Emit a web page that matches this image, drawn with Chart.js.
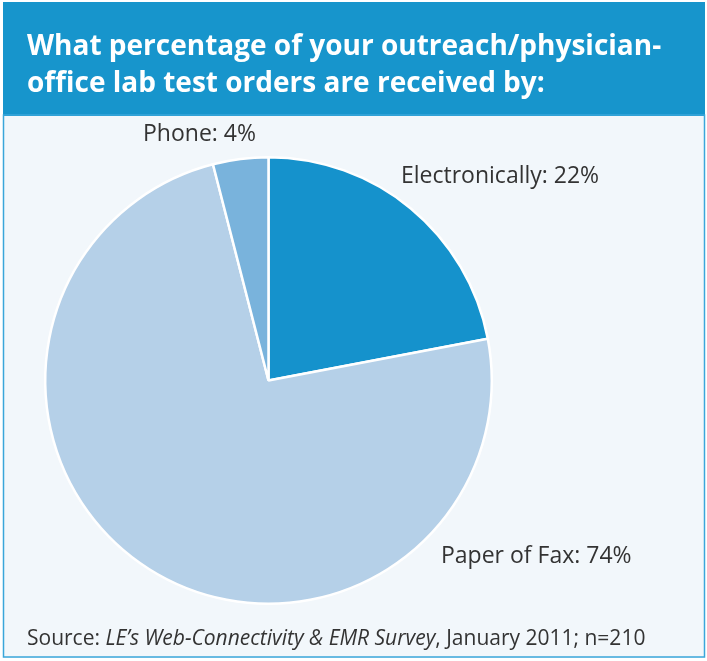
<!DOCTYPE html>
<html>
<head>
<meta charset="utf-8">
<script src="https://cdn.jsdelivr.net/npm/chart.js@4"></script>
<style>
  html, body { margin: 0; padding: 0; background: #ffffff; }
  #wrap { position: relative; width: 707px; height: 661px; }
</style>
</head>
<body>
<div id="wrap"><canvas id="myChart" width="707" height="661"></canvas></div>
<script>
const categories = ['Electronically', 'Paper of Fax', 'Phone'];
const shares = [22, 74, 4];
const sliceColors = ['#1592cc', '#b5d0e8', '#79b3dc'];
const titleLines = ['What percentage of your outreach/physician-', 'office lab test orders are received by:'];
// where each slice label sits (text left x, baseline y)
const labelSpots = [[401, 183], [441, 563], [143, 141]];

const frame = {
  id: 'frame',
  beforeDraw(chart) {
    const ctx = chart.ctx;
    ctx.save();
    ctx.fillStyle = '#ffffff';
    ctx.fillRect(0, 0, 707, 661);
    ctx.fillStyle = '#f2f7fb';
    ctx.fillRect(3, 115, 702, 543);
    ctx.fillStyle = '#1795cc';
    ctx.fillRect(3, 2, 702, 114);
    ctx.strokeStyle = '#3aa6da';
    ctx.lineWidth = 1.5;
    ctx.strokeRect(3.5, 115, 701, 542);
    ctx.fillStyle = '#ffffff';
    ctx.font = 'bold 28px "Open Sans"';
    ctx.textBaseline = 'alphabetic';
    ctx.fillText(titleLines[0], 27, 55, 643);
    ctx.fillText(titleLines[1], 27, 92);
    ctx.restore();
  },
  afterDraw(chart) {
    const ctx = chart.ctx;
    ctx.save();
    ctx.fillStyle = '#333333';
    ctx.font = '23px "Open Sans"';
    categories.forEach((c, i) => {
      ctx.fillText(c + ': ' + shares[i] + '%', labelSpots[i][0], labelSpots[i][1]);
    });
    let x = 27;
    const parts = [['Source: ', ''], ['LE\u2019s Web-Connectivity & EMR Survey', 'italic '], [', January 2011; n=210', '']];
    parts.forEach(p => {
      ctx.font = p[1] + '21px "Open Sans"';
      ctx.fillText(p[0], x, 645);
      x += ctx.measureText(p[0]).width;
    });
    ctx.restore();
  }
};

new Chart(document.getElementById('myChart').getContext('2d'), {
  type: 'pie',
  data: {
    labels: categories,
    datasets: [{
      data: shares,
      backgroundColor: sliceColors,
      borderColor: '#ffffff',
      borderWidth: 2.5
    }]
  },
  options: {
    responsive: false,
    animation: false,
    layout: { padding: { left: 44, top: 156, right: 214, bottom: 56 } },
    plugins: { legend: { display: false }, tooltip: { enabled: false }, title: { display: false } }
  },
  plugins: [frame]
});
</script>
</body>
</html>
